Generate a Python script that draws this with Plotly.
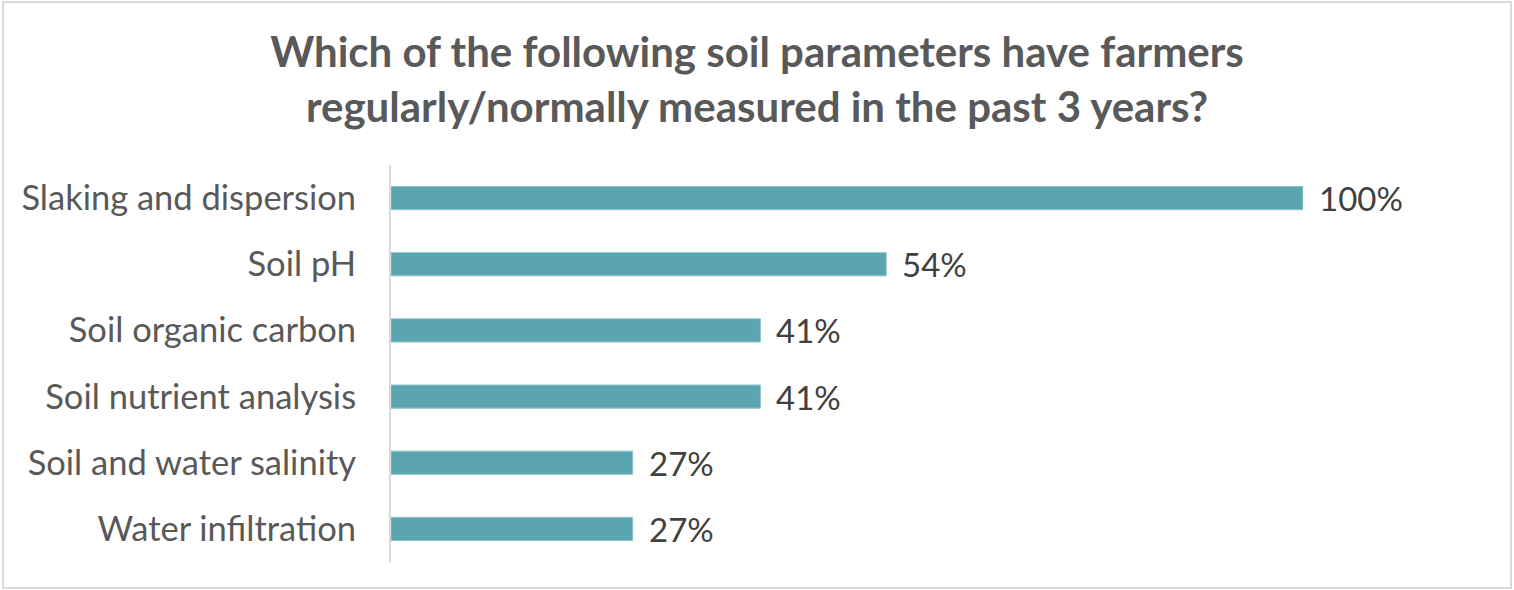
import plotly.graph_objects as go

categories = ["Slaking and dispersion", "Soil pH", "Soil organic carbon",
              "Soil nutrient analysis", "Soil and water salinity", "Water infiltration"]
values = [100, 54.3, 40.5, 40.5, 26.5, 26.5]
value_labels = ["100%", "54%", "41%", "41%", "27%", "27%"]

W, H = 1514, 590
ML, MR, MT, MB = 391, 211, 165, 28
pw, ph = W - ML - MR, H - MT - MB

fig = go.Figure(go.Bar(
    x=values, y=categories, orientation="h",
    marker=dict(color="#5AA5AF", line=dict(color="#8CC3CA", width=1)),
    width=0.35, cliponaxis=False, hoverinfo="skip",
))

annotations = [
    dict(x=v, y=c, text=t, xref="x", yref="y", xanchor="left", yanchor="middle",
         xshift=14, showarrow=False, font=dict(family="Lato", size=33, color="#404040"))
    for v, c, t in zip(values, categories, value_labels)
]

def px(xp):
    return (xp - ML) / pw

def py(yp):
    return 1 - (yp - MT) / ph

fig.update_layout(
    width=W, height=H,
    margin=dict(l=ML, r=MR, t=MT, b=MB),
    paper_bgcolor="white", plot_bgcolor="white",
    showlegend=False,
    title=dict(
        text="<b>Which of the following soil parameters have farmers<br>regularly/normally measured in the past 3 years?</b>",
        x=0.5, xanchor="center", xref="container",
        y=1 - 67 / H, yanchor="middle", yref="container",
        font=dict(family="Lato", size=42, color="#595959"),
    ),
    xaxis=dict(range=[0, 100], visible=False, fixedrange=True),
    yaxis=dict(
        categoryorder="array", categoryarray=categories[::-1],
        autorange=False, range=[-0.5, 5.5],
        showline=True, linecolor="#D9D9D9", linewidth=2,
        showgrid=False, zeroline=False, ticks="",
        ticklabelstandoff=26,
        tickfont=dict(family="Lato", size=34.5, color="#595959"),
    ),
    annotations=annotations,
    shapes=[dict(type="rect", xref="paper", yref="paper",
                 x0=px(3), x1=px(1511), y0=py(588), y1=py(2),
                 line=dict(color="#D9D9D9", width=2), fillcolor="rgba(0,0,0,0)", layer="below")],
)

fig.write_html("out.html", config={"displayModeBar": False},
               post_script="document.body.style.margin='0';document.body.style.overflow='hidden';")
